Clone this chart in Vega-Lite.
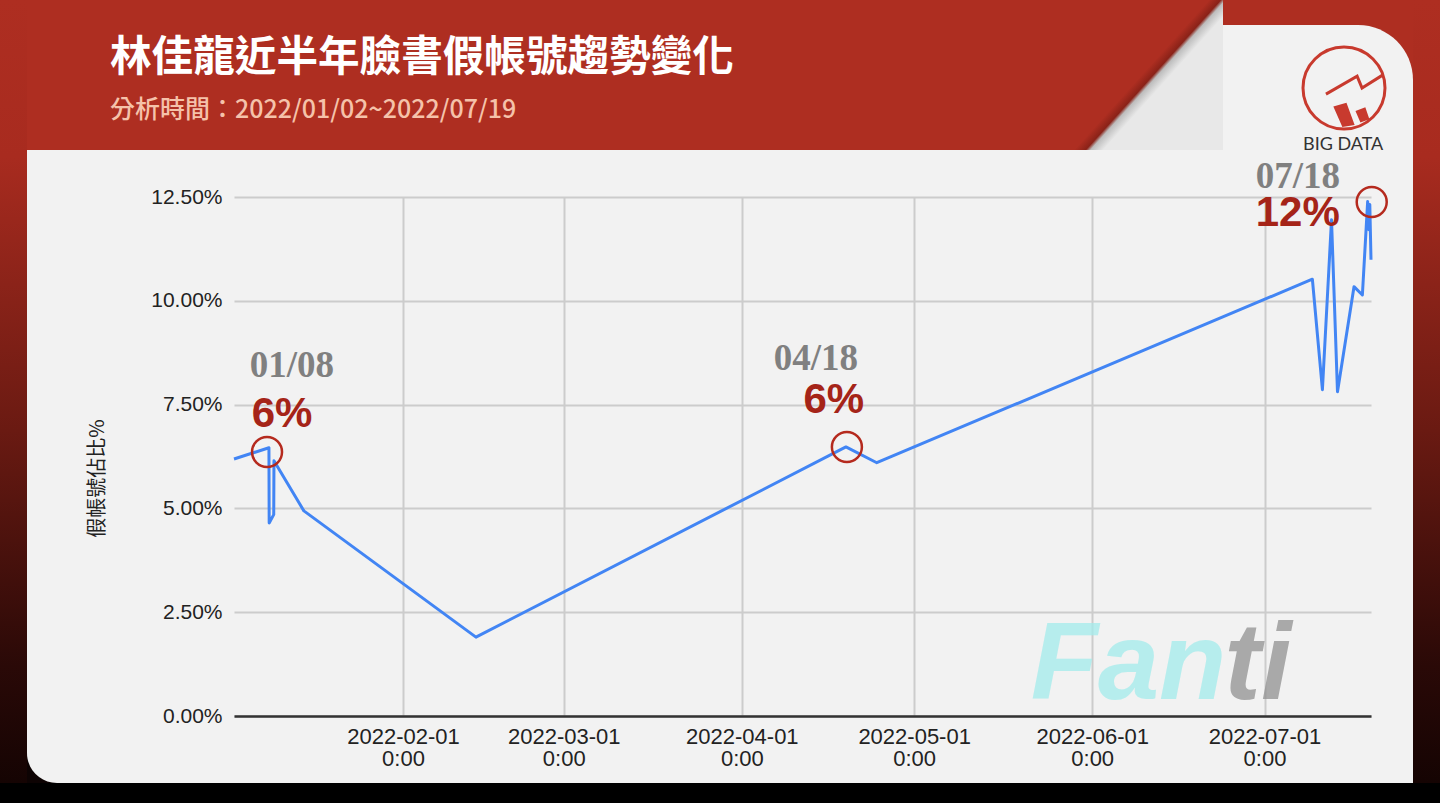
{
  "$schema": "https://vega.github.io/schema/vega-lite/v6.json",
  "background": "#f2f2f2",
  "padding": 0,
  "config": {"view": {"stroke": null}},
  "datasets": {
    "trend": [
      {"time": "2022-01-02T14:00", "share": 0.0619},
      {"time": "2022-01-08T16:00", "share": 0.0646},
      {"time": "2022-01-08T17:00", "share": 0.0465},
      {"time": "2022-01-09T12:00", "share": 0.0485},
      {"time": "2022-01-09T13:00", "share": 0.0615},
      {"time": "2022-01-14T18:00", "share": 0.0494},
      {"time": "2022-02-13T17:00", "share": 0.0190},
      {"time": "2022-04-19T03:00", "share": 0.0648},
      {"time": "2022-04-24T12:00", "share": 0.0610},
      {"time": "2022-07-09T08:00", "share": 0.1052},
      {"time": "2022-07-11T02:00", "share": 0.0786},
      {"time": "2022-07-12T16:00", "share": 0.1195},
      {"time": "2022-07-13T17:00", "share": 0.0781},
      {"time": "2022-07-16T14:00", "share": 0.1034},
      {"time": "2022-07-18T01:00", "share": 0.1014},
      {"time": "2022-07-18T23:00", "share": 0.1239},
      {"time": "2022-07-19T04:00", "share": 0.1171},
      {"time": "2022-07-19T08:00", "share": 0.1232},
      {"time": "2022-07-19T13:00", "share": 0.1099}
    ],
    "notes": [
      {"kind": "circle", "time": "2022-01-08T08:00", "share": 0.0636, "label": ""},
      {"kind": "circle", "time": "2022-04-19T07:00", "share": 0.0648, "label": ""},
      {"kind": "circle", "time": "2022-07-19T16:00", "share": 0.1238, "label": ""},
      {"kind": "date", "time": "2022-01-12T16:00", "share": 0.08165, "label": "01/08"},
      {"kind": "pct", "time": "2022-01-10T22:30", "share": 0.0696, "label": "6%"},
      {"kind": "date", "time": "2022-04-13T21:00", "share": 0.0833, "label": "04/18"},
      {"kind": "pct", "time": "2022-04-17T00:30", "share": 0.0730, "label": "6%"},
      {"kind": "date", "time": "2022-07-06T19:00", "share": 0.1272, "label": "07/18"},
      {"kind": "pct", "time": "2022-07-06T19:00", "share": 0.1180, "label": "12%"}
    ],
    "watermark": [
      {"part": "Fan", "time": "2022-05-21T07:00", "share": 0.0040},
      {"part": "ti", "time": "2022-06-24T00:00", "share": 0.0040}
    ]
  },
  "spacing": 0,
  "vconcat": [
    {
      "spacing": 0,
      "hconcat": [
        {
          "width": 27,
          "height": 783,
          "data": {"values": [{"band": "left"}]},
          "mark": {"type": "rect", "color": {"gradient": "linear", "x1": 0, "y1": 0, "x2": 0, "y2": 1, "stops": [{"offset": 0, "color": "#ae2e21"}, {"offset": 0.2, "color": "#a82b1f"}, {"offset": 0.55, "color": "#6a1a12"}, {"offset": 0.85, "color": "#2a0907"}, {"offset": 1, "color": "#150403"}]}},
          "encoding": {}
        },
        {
          "spacing": 3,
          "vconcat": [
            {
              "spacing": 0,
              "hconcat": [
                {
                  "width": 1196,
                  "height": 150,
                  "data": {"values": [{"band": "header"}]},
                  "mark": {"type": "rect", "color": {"gradient": "linear", "x1": 0, "y1": 0, "x2": 1, "y2": 0.1129, "stops": [{"offset": 0, "color": "#ae2e21"}, {"offset": 0.976, "color": "#ae2e21"}, {"offset": 0.9855, "color": "#8a2218"}, {"offset": 0.9895, "color": "#bdbdbd"}, {"offset": 1, "color": "#e8e8e8"}]}},
                  "encoding": {},
                  "title": {
                    "text": "林佳龍近半年臉書假帳號趨勢變化",
                    "subtitle": "分析時間：2022/01/02~2022/07/19",
                    "anchor": "start",
                    "frame": "group",
                    "orient": "top",
                    "offset": -123,
                    "dx": 83,
                    "color": "#ffffff",
                    "font": "Noto Sans CJK TC",
                    "fontSize": 41.6,
                    "fontWeight": "bold",
                    "subtitleColor": "#f5c2aa",
                    "subtitleFont": "Noto Sans CJK TC",
                    "subtitleFontSize": 25,
                    "subtitleFontWeight": 500,
                    "subtitlePadding": 18
                  }
                },
                {
                  "spacing": 0,
                  "vconcat": [
                    {
                      "width": 190,
                      "height": 25,
                      "data": {"values": [{"band": "headerTop"}]},
                      "mark": {"type": "rect", "color": "#ae2e21"},
                      "encoding": {}
                    },
                    {
                      "width": 190,
                      "height": 125,
                      "view": {"fill": "#ae2e21", "stroke": null},
                      "data": {"values": [{"brand": "BIG DATA"}]},
                      "title": {
                        "text": "BIG DATA",
                        "orient": "bottom",
                        "anchor": "start",
                        "frame": "group",
                        "offset": -14,
                        "dx": 80,
                        "font": "Lato",
                        "fontSize": 18,
                        "fontWeight": "normal",
                        "color": "#333333"
                      },
                      "layer": [
                        {"mark": {"type": "rect", "color": "#f2f2f2", "cornerRadiusTopRight": 55}, "encoding": {}},
                        {"mark": {"type": "point", "shape": "circle", "size": 6724, "filled": false, "color": "#c83a2e", "strokeWidth": 3, "opacity": 1, "xOffset": 26, "yOffset": 0.5}, "encoding": {}},
                        {"mark": {"type": "point", "shape": "M-0.44,0.15L0.32,-0.29L0.44,0L0.95,-0.32", "size": 6724, "filled": false, "color": "#c83a2e", "strokeWidth": 3, "opacity": 1, "xOffset": 26, "yOffset": 0.5}, "encoding": {}},
                        {"mark": {"type": "point", "shape": "M-0.26,0.45L0.06,0.36L0.26,0.9L-0.04,0.95Z M0.28,0.56L0.52,0.47L0.62,0.76L0.4,0.84Z", "size": 6724, "filled": true, "color": "#c83a2e", "opacity": 1, "xOffset": 26, "yOffset": 0.5}, "encoding": {}}
                      ]
                    }
                  ]
                }
              ]
            },
            {
              "spacing": 0,
              "hconcat": [
                {
                  "width": 60,
                  "height": 586,
                  "view": {"fill": "#0d0303", "stroke": null},
                  "data": {"values": [{"band": "corner"}]},
                  "mark": {"type": "rect", "color": "#f2f2f2", "cornerRadiusBottomLeft": 55},
                  "encoding": {}
                },
                {
                  "width": 1137,
                  "height": 519,
                  "encoding": {
                    "x": {
                      "field": "time",
                      "type": "temporal",
                      "title": null,
                      "scale": {"domain": [{"year": 2022, "month": 1, "date": 2, "hours": 14}, {"year": 2022, "month": 7, "date": 19, "hours": 13}], "nice": false},
                      "axis": {
                        "values": [{"year": 2022, "month": 2, "date": 1}, {"year": 2022, "month": 3, "date": 1}, {"year": 2022, "month": 4, "date": 1}, {"year": 2022, "month": 5, "date": 1}, {"year": 2022, "month": 6, "date": 1}, {"year": 2022, "month": 7, "date": 1}],
                        "labelExpr": "[timeFormat(datum.value, '%Y-%m-%d'), timeFormat(datum.value, '%-H:%M')]",
                        "grid": true,
                        "gridColor": "#cccccc",
                        "gridWidth": 2,
                        "ticks": false,
                        "domain": true,
                        "domainColor": "#333333",
                        "domainWidth": 2.5,
                        "labelFont": "Liberation Sans",
                        "labelFontSize": 22,
                        "labelColor": "#222222",
                        "labelPadding": 10,
                        "labelLineHeight": 22,
                        "labelAngle": 0,
                        "labelFlush": false,
                        "labelOverlap": false
                      }
                    },
                    "y": {
                      "field": "share",
                      "type": "quantitative",
                      "title": "假帳號佔比%",
                      "scale": {"domain": [0, 0.125], "nice": false},
                      "axis": {
                        "values": [0, 0.025, 0.05, 0.075, 0.1, 0.125],
                        "format": ".2%",
                        "grid": true,
                        "gridColor": "#cccccc",
                        "gridWidth": 2,
                        "ticks": false,
                        "domain": false,
                        "labelFont": "Liberation Sans",
                        "labelFontSize": 21,
                        "labelColor": "#222222",
                        "labelPadding": 12,
                        "titleFont": "Noto Sans CJK TC",
                        "titleFontSize": 20,
                        "titleFontWeight": "normal",
                        "titleColor": "#222222",
                        "titleAngle": -90,
                        "titleX": -127,
                        "titleY": 281
                      }
                    }
                  },
                  "layer": [
                    {
                      "data": {"name": "watermark"},
                      "mark": {"type": "text", "align": "left", "baseline": "alphabetic", "font": "Liberation Sans", "fontSize": 110, "fontStyle": "italic", "fontWeight": "bold", "opacity": 0.75},
                      "encoding": {
                        "text": {"field": "part"},
                        "color": {"field": "part", "type": "nominal", "scale": {"domain": ["Fan", "ti"], "range": ["#a3ecec", "#919191"]}, "legend": null}
                      }
                    },
                    {
                      "data": {"name": "trend"},
                      "mark": {"type": "line", "color": "#4285f4", "strokeWidth": 3, "strokeJoin": "round"}
                    },
                    {
                      "data": {"name": "notes"},
                      "transform": [{"filter": "datum.kind === 'circle'"}],
                      "mark": {"type": "point", "shape": "circle", "size": 900, "filled": false, "color": "#b52a1e", "strokeWidth": 2.5, "opacity": 1}
                    },
                    {
                      "data": {"name": "notes"},
                      "transform": [{"filter": "datum.kind === 'date'"}],
                      "mark": {"type": "text", "align": "center", "baseline": "alphabetic", "font": "Liberation Serif", "fontWeight": "bold", "fontSize": 37, "color": "#808080"},
                      "encoding": {"text": {"field": "label"}}
                    },
                    {
                      "data": {"name": "notes"},
                      "transform": [{"filter": "datum.kind === 'pct'"}],
                      "mark": {"type": "text", "align": "center", "baseline": "alphabetic", "font": "Liberation Sans", "fontWeight": "bold", "fontSize": 42, "color": "#a52418"},
                      "encoding": {"text": {"field": "label"}}
                    }
                  ]
                }
              ]
            }
          ]
        },
        {
          "width": 27,
          "height": 783,
          "data": {"values": [{"band": "right"}]},
          "mark": {"type": "rect", "color": {"gradient": "linear", "x1": 0, "y1": 0, "x2": 0, "y2": 1, "stops": [{"offset": 0, "color": "#ae2e21"}, {"offset": 0.2, "color": "#a82b1f"}, {"offset": 0.55, "color": "#6a1a12"}, {"offset": 0.85, "color": "#2a0907"}, {"offset": 1, "color": "#150403"}]}},
          "encoding": {}
        }
      ]
    },
    {
      "width": 1440,
      "height": 20,
      "data": {"values": [{"band": "bottom"}]},
      "mark": {"type": "rect", "color": "#000000"},
      "encoding": {}
    }
  ]
}
